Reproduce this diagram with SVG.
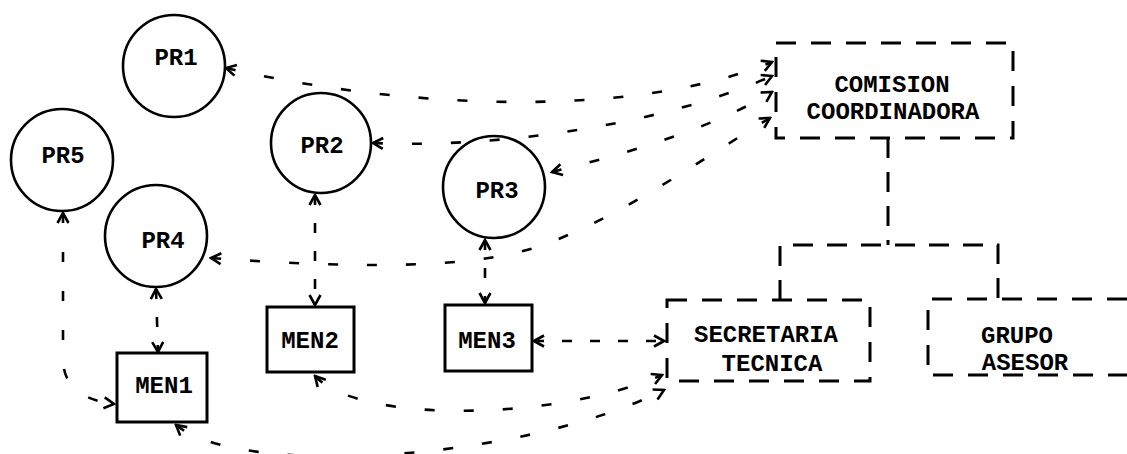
<svg xmlns="http://www.w3.org/2000/svg" width="1127" height="454" viewBox="0 0 1127 454">
<style>
  .node { fill: none; stroke: #000; stroke-width: 2.6; }
  .box { fill: none; stroke: #000; stroke-width: 3; }
  .dbox { fill: none; stroke: #000; stroke-width: 3; stroke-dasharray: 20 15; }
  .lbl { font-family: "Liberation Mono", "DejaVu Sans Mono", monospace; font-weight: bold; font-size: 24px; fill: #000; text-anchor: middle; }
  .conn { fill: none; stroke: #000; stroke-width: 2.6; stroke-dasharray: 10 29; marker-start: url(#arr); marker-end: url(#arr); }
  .short { stroke-dasharray: 10 18; }
  .tree { fill: none; stroke: #000; stroke-width: 3; stroke-dasharray: 20 14; }
</style>
<defs>
  <marker id="arr" markerUnits="userSpaceOnUse" markerWidth="14" markerHeight="14" viewBox="0 0 14 14" refX="12" refY="7" orient="auto-start-reverse">
    <path d="M2,1.5 L12,7 L2,12.5" fill="none" stroke="#000" stroke-width="2.6" stroke-dasharray="none"/>
  </marker>
</defs>
<rect width="1127" height="454" fill="#fff"/>

<g id="PR1"><circle class="node" cx="174" cy="66" r="51"/><text class="lbl" x="176" y="65">PR1</text></g>
<g id="PR2"><circle class="node" cx="321" cy="143" r="50"/><text class="lbl" x="322" y="153">PR2</text></g>
<g id="PR3"><circle class="node" cx="494" cy="187" r="51"/><text class="lbl" x="497" y="198">PR3</text></g>
<g id="PR4"><circle class="node" cx="156" cy="236" r="51"/><text class="lbl" x="163" y="248">PR4</text></g>
<g id="PR5"><circle class="node" cx="62" cy="160" r="51"/><text class="lbl" x="63" y="163">PR5</text></g>

<g id="MEN1"><rect class="box" x="117" y="353" width="90" height="69"/><text class="lbl" x="164" y="393">MEN1</text></g>
<g id="MEN2"><rect class="box" x="267" y="307" width="87" height="65"/><text class="lbl" x="310" y="348">MEN2</text></g>
<g id="MEN3"><rect class="box" x="445" y="305" width="87" height="66"/><text class="lbl" x="487" y="348">MEN3</text></g>

<g id="COMISION"><rect class="dbox" x="776" y="43" width="237" height="95"/><text class="lbl" x="892" y="92">COMISION</text><text class="lbl" x="893" y="119">COORDINADORA</text></g>
<g id="SECRETARIA"><rect class="dbox" x="667" y="300" width="203" height="81"/><text class="lbl" x="766" y="342">SECRETARIA</text><text class="lbl" x="772" y="371">TECNICA</text></g>
<g id="GRUPO"><path class="dbox" d="M1127,299 L928,299 L928,375 L1127,375"/><text class="lbl" x="1017" y="343">GRUPO</text><text class="lbl" x="1025" y="370">ASESOR</text></g>

<g id="connectors">
  <path class="tree" d="M888,138 L888,245"/>
  <path class="tree" d="M780,300 L780,245 L998,245 L998,299"/>
  <path class="conn" d="M226,68 C380,104 620,124 772,62"/>
  <path class="conn" d="M373,143 C480,148 650,130 772,76"/>
  <path class="conn" d="M552,172 C620,155 710,130 772,92"/>
  <path class="conn" d="M211,258 C350,268 470,270 540,246 C620,218 700,160 770,118"/>
  <path class="conn" d="M63,213 L63,360 Q64,398 114,404"/>
  <path class="conn short" d="M156,289 L158,352"/>
  <path class="conn short" d="M315,195 L315,305"/>
  <path class="conn short" d="M485,240 L485,303"/>
  <path class="conn short" d="M534,341 L664,341"/>
  <path class="conn" d="M315,376 C360,425 560,420 662,375"/>
  <path class="conn" d="M176,425 C240,478 520,462 664,390"/>
</g>
</svg>
